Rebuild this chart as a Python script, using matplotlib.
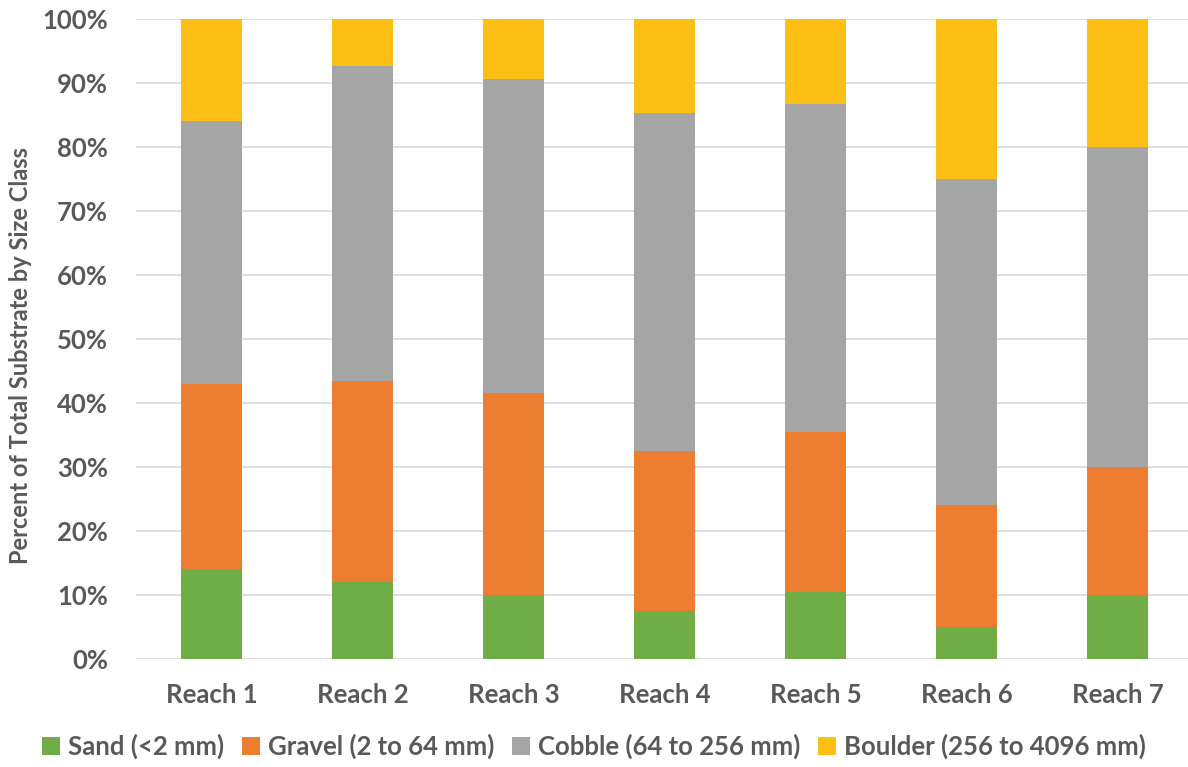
import matplotlib
matplotlib.use("Agg")
import matplotlib.pyplot as plt
import numpy as np

categories = ["Reach 1", "Reach 2", "Reach 3", "Reach 4", "Reach 5", "Reach 6", "Reach 7"]
sand = [14, 12, 10, 7.5, 10.5, 5, 10]
gravel = [29, 31.5, 31.5, 25, 25, 19, 20]
cobble = [41, 49.2, 49.2, 52.8, 51.2, 51, 50]
boulder = [16, 7.3, 9.3, 14.7, 13.3, 25, 20]
series_names = ["Sand (<2 mm)", "Gravel (2 to 64 mm)", "Cobble (64 to 256 mm)", "Boulder (256 to 4096 mm)"]
colors = ["#70AD47", "#ED7D31", "#A5A5A5", "#FCBF14"]
yticks = [0, 10, 20, 30, 40, 50, 60, 70, 80, 90, 100]

plt.rcParams['font.family'] = ['Lato', 'DejaVu Sans']
txt = "#595959"

fig = plt.figure(figsize=(11.88, 7.67), dpi=100)
ax = fig.add_axes([136/1188, 108/767, 1057/1188, 640/767])

x = np.arange(len(categories))
data = [sand, gravel, cobble, boulder]
bottom = np.zeros(len(categories))
for vals, name, c in zip(data, series_names, colors):
    vals = np.array(vals, dtype=float)
    ax.bar(x, vals, 0.40, bottom=bottom, color=c, label=name, zorder=3)
    bottom += vals

ax.set_xlim(-0.5, len(categories) - 0.5)
ax.set_ylim(0, 100)
ax.set_yticks(yticks)
ax.set_yticklabels([f"{v}%" for v in yticks])
ax.set_xticks(x)
ax.set_xticklabels(categories)
ax.yaxis.grid(True, color="#D9D9D9", linewidth=1.2, zorder=0)
for s in ax.spines.values():
    s.set_visible(False)
ax.tick_params(axis='both', length=0, colors=txt, labelsize=18.5)
ax.tick_params(axis='y', pad=20)
ax.tick_params(axis='x', pad=17)
for lbl in ax.get_xticklabels() + ax.get_yticklabels():
    lbl.set_fontweight('bold')
ax.set_ylabel("Percent of Total Substrate by Size Class", fontsize=17, fontweight='bold', color=txt)
ax.yaxis.set_label_coords(-0.098, 0.475)

leg = fig.legend(loc='lower center', bbox_to_anchor=(0.5, -0.02), ncol=4, frameon=False,
                 handlelength=0.7, handleheight=0.7, handletextpad=0.3, columnspacing=0.7,
                 prop={'size': 18.5, 'weight': 'bold'})
for t in leg.get_texts():
    t.set_color(txt)

fig.savefig("out.png", dpi=100)
